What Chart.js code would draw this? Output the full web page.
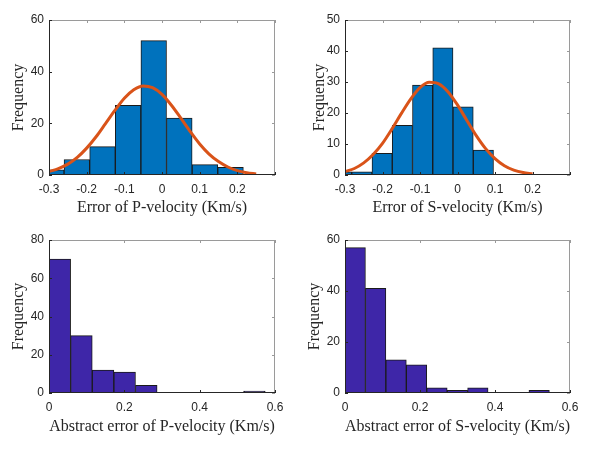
<!DOCTYPE html>
<html><head><meta charset="utf-8">
<script src="https://cdn.jsdelivr.net/npm/chart.js@4/dist/chart.umd.min.js"></script>
<style>
html,body{margin:0;padding:0;background:#fff;}
#wrap{position:relative;width:592px;height:450px;background:#fff;overflow:hidden;}
.cell{position:absolute;width:296px;height:225px;}
</style></head><body>
<div id="wrap">
  <div class="cell" style="left:0;top:0"><canvas id="c1"></canvas></div>
  <div class="cell" style="left:296px;top:0"><canvas id="c2"></canvas></div>
  <div class="cell" style="left:0;top:225px"><canvas id="c3"></canvas></div>
  <div class="cell" style="left:296px;top:225px"><canvas id="c4"></canvas></div>
</div>
<script>
// ---- Data ----
// Error of P-velocity histogram (bin centres, counts) and fitted normal curve
const pErrBinCenters = [-0.294, -0.226, -0.158, -0.090, -0.022, 0.046, 0.114, 0.182];
const pErrCounts     = [2, 6, 11, 27, 52, 22, 4, 3];
const pFitX = [-0.300,-0.275,-0.250,-0.225,-0.200,-0.175,-0.150,-0.125,-0.100,-0.075,-0.050,-0.025,0.000,0.025,0.050,0.075,0.100,0.125,0.150,0.175,0.200,0.225,0.250];
const pFitY = [1.3,2.5,4.2,6.8,10.4,14.8,19.9,25.0,29.7,33.0,34.5,33.8,31.2,27.0,22.0,16.8,12.0,8.1,5.2,3.1,1.7,0.9,0.4];

// Error of S-velocity histogram and fitted normal curve
const sErrBinCenters = [-0.309, -0.255, -0.201, -0.147, -0.093, -0.039, 0.015, 0.069];
const sErrCounts     = [1, 1, 7, 16, 29, 41, 22, 8];
const sFitX = [-0.300,-0.275,-0.250,-0.225,-0.200,-0.175,-0.150,-0.125,-0.100,-0.075,-0.050,-0.025,0.000,0.025,0.050,0.075,0.100,0.125,0.150,0.175,0.200];
const sFitY = [1.1,2.1,3.9,6.6,10.2,14.8,19.8,24.5,28.2,29.9,29.4,26.8,22.6,17.6,12.7,8.5,5.3,3.0,1.6,0.8,0.4];

// Abstract error of P-velocity histogram
const pAbsBinCenters = [0.0287, 0.0861, 0.1435, 0.2009, 0.2583, 0.3157, 0.3731, 0.4305, 0.4879, 0.5453];
const pAbsCounts     = [70, 30, 12, 11, 4, 0, 0, 0, 0, 1];

// Abstract error of S-velocity histogram
const sAbsBinCenters = [0.02725, 0.08175, 0.13625, 0.19075, 0.24525, 0.29975, 0.35425, 0.40875, 0.46325, 0.51775];
const sAbsCounts     = [57, 41, 13, 11, 2, 1, 2, 0, 0, 1];

// Tick values / labels
const errXTicks      = [-0.3, -0.2, -0.1, 0, 0.1, 0.2, 0.3];
const errXTickLabels = ['-0.3', '-0.2', '-0.1', '0', '0.1', '0.2', ''];
const absXTicks      = [0, 0.2, 0.4, 0.6];
const absXTickLabels = ['0', '0.2', '0.4', '0.6'];
const pErrYTicks = [0, 20, 40, 60];
const sErrYTicks = [0, 10, 20, 30, 40, 50];
const pAbsYTicks = [0, 20, 40, 60, 80];
const sAbsYTicks = [0, 20, 40, 60];

// ---- Styling ----
const BLUE = '#0072BD', ORANGE = '#D95319', INDIGO = '#3E26A8';
const TXT = '#262626';
const tickFont = {family: 'Liberation Sans, Arial, sans-serif', size: 12};
const titleFont = {family: 'Liberation Serif, Times New Roman, serif', size: 16};

const boxPlugin = {
  id: 'matlabBox',
  afterDatasetsDraw(chart) {
    const {ctx, chartArea: a, scales} = chart;
    const L = 3;
    const xs = scales.x, ys = scales.y;
    ctx.save();
    ctx.lineWidth = 1;
    // top and right sides (lighter)
    ctx.strokeStyle = '#9a9a9a';
    ctx.beginPath();
    ctx.moveTo(a.left, a.top + 0.5); ctx.lineTo(a.right, a.top + 0.5);
    ctx.moveTo(a.right - 0.5, a.top); ctx.lineTo(a.right - 0.5, a.bottom);
    xs.ticks.forEach(t => { const p = Math.round(xs.getPixelForValue(t.value)) + 0.5; ctx.moveTo(p, a.top); ctx.lineTo(p, a.top + L); });
    ys.ticks.forEach(t => { const p = Math.round(ys.getPixelForValue(t.value)) + 0.5; ctx.moveTo(a.right, p); ctx.lineTo(a.right - L, p); });
    ctx.stroke();
    // bottom and left sides (dark)
    ctx.strokeStyle = TXT;
    ctx.beginPath();
    ctx.moveTo(a.left, a.bottom - 0.5); ctx.lineTo(a.right, a.bottom - 0.5);
    ctx.moveTo(a.left + 0.5, a.top); ctx.lineTo(a.left + 0.5, a.bottom);
    xs.ticks.forEach(t => { const p = Math.round(xs.getPixelForValue(t.value)) + 0.5; ctx.moveTo(p, a.bottom); ctx.lineTo(p, a.bottom - L); });
    ys.ticks.forEach(t => { const p = Math.round(ys.getPixelForValue(t.value)) + 0.5; ctx.moveTo(a.left, p); ctx.lineTo(a.left + L, p); });
    ctx.stroke();
    ctx.restore();
  }
};

function toPoints(xs, ys) { return xs.map((x, i) => ({x: x, y: ys[i]})); }

function makeChart(id, cfg) {
  const datasets = [];
  if (cfg.fitX) {
    datasets.push({
      type: 'line', data: toPoints(cfg.fitX, cfg.fitY),
      borderColor: ORANGE, borderWidth: 3, pointRadius: 0, fill: false,
      cubicInterpolationMode: 'monotone', order: 1
    });
  }
  datasets.push({
    type: 'bar', data: toPoints(cfg.centers, cfg.counts),
    backgroundColor: cfg.color, borderColor: '#1a1a1a', borderWidth: 1,
    borderSkipped: false, barPercentage: 1, categoryPercentage: 1,
    clip: 0, order: 2
  });
  return new Chart(document.getElementById(id), {
    type: 'bar',
    data: {datasets: datasets},
    options: {
      responsive: true, maintainAspectRatio: false, animation: false,
      layout: {padding: {left: 0, top: cfg.top, right: cfg.right, bottom: 0}},
      plugins: {legend: {display: false}, tooltip: {enabled: false}},
      scales: {
        x: {
          type: 'linear', min: cfg.xMin, max: cfg.xMax, offset: false,
          afterFit: s => { s.height = cfg.xH; },
          afterBuildTicks: s => { s.ticks = cfg.xTicks.map(v => ({value: v})); },
          grid: {display: false, drawTicks: false}, border: {display: false},
          ticks: {font: tickFont, color: TXT, padding: 7, maxRotation: 0, autoSkip: false,
                  callback: (v, i) => cfg.xLabels[i]},
          title: {display: true, text: cfg.xTitle, font: titleFont, color: TXT,
                  padding: {top: 0, bottom: cfg.xTitlePad}}
        },
        y: {
          type: 'linear', min: cfg.yTicks[0], max: cfg.yTicks[cfg.yTicks.length - 1],
          afterFit: s => { s.width = 49; },
          afterBuildTicks: s => { s.ticks = cfg.yTicks.map(v => ({value: v})); },
          grid: {display: false, drawTicks: false}, border: {display: false},
          ticks: {font: tickFont, color: TXT, padding: 5, autoSkip: false},
          title: {display: true, text: 'Frequency', font: titleFont, color: TXT,
                  padding: {top: cfg.yTitlePad, bottom: 0}}
        }
      }
    },
    plugins: [boxPlugin]
  });
}

makeChart('c1', {centers: pErrBinCenters, counts: pErrCounts, fitX: pFitX, fitY: pFitY, color: BLUE,
  xMin: -0.3, xMax: 0.3, xTicks: errXTicks, xLabels: errXTickLabels, yTicks: pErrYTicks,
  xTitle: 'Error of P-velocity (Km/s)', top: 20, right: 21, xH: 50, xTitlePad: 8, yTitlePad: 9});
makeChart('c2', {centers: sErrBinCenters, counts: sErrCounts, fitX: sFitX, fitY: sFitY, color: BLUE,
  xMin: -0.3, xMax: 0.3, xTicks: errXTicks, xLabels: errXTickLabels, yTicks: sErrYTicks,
  xTitle: 'Error of S-velocity (Km/s)', top: 20, right: 22, xH: 50, xTitlePad: 8, yTitlePad: 14});
makeChart('c3', {centers: pAbsBinCenters, counts: pAbsCounts, color: INDIGO,
  xMin: 0, xMax: 0.6, xTicks: absXTicks, xLabels: absXTickLabels, yTicks: pAbsYTicks,
  xTitle: 'Abstract error of P-velocity (Km/s)', top: 15, right: 21, xH: 57, xTitlePad: 14, yTitlePad: 9});
makeChart('c4', {centers: sAbsBinCenters, counts: sAbsCounts, color: INDIGO,
  xMin: 0, xMax: 0.6, xTicks: absXTicks, xLabels: absXTickLabels, yTicks: sAbsYTicks,
  xTitle: 'Abstract error of S-velocity (Km/s)', top: 15, right: 22, xH: 57, xTitlePad: 14, yTitlePad: 9});
</script>
</body></html>
